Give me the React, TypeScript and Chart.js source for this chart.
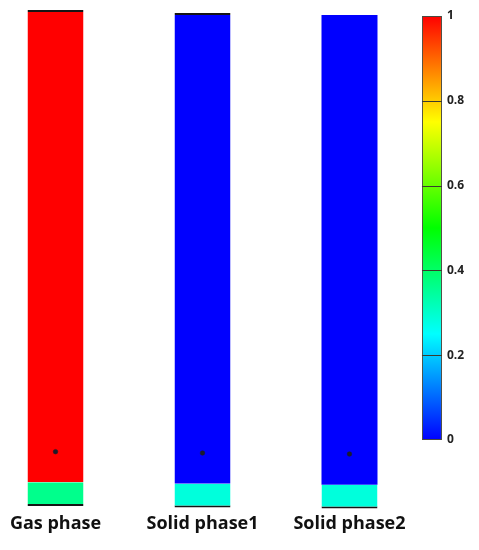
import React, { useEffect, useRef } from "react";
import { Chart, registerables } from "chart.js";

Chart.register(...registerables);

// ---- data ----
const phases = ["Gas phase", "Solid phase1", "Solid phase2"];
const phasePos = [0, 1, 2];
// normalised bed height ranges of the two zones in each column
const lowerZone: [number, number][] = [
  [0, 0.048],
  [-0.003, 0.045],
  [-0.005, 0.043],
];
const upperZone: [number, number][] = [
  [0.048, 1.0],
  [0.045, 0.994],
  [0.043, 0.99],
];
// volume fraction in each zone
const lowerFraction = [0.363, 0.284, 0.284];
const upperFraction = [1.0, 0.0, 0.0];
// monitoring point height
const probeHeight = [0.1095, 0.1069, 0.1048];
// colour bar
const colorbarTicks = [0, 0.2, 0.4, 0.6, 0.8, 1];
const colorbarRange: [number, number] = [0, 1];
const colorbarStops = [0, 0.25, 0.5, 0.75, 1];
const colorbarColors = ["#0000ff", "#00ffff", "#00ff00", "#ffff00", "#ff0000"];

// ---- styling ----
const columnTopEdge = [2, 2, 0];
const FONT = "'Open Sans', 'Liberation Sans', Arial, sans-serif";

function hexToRgb(h: string) {
  const n = parseInt(h.slice(1), 16);
  return [(n >> 16) & 255, (n >> 8) & 255, n & 255];
}

function colormap(v: number) {
  const t = Math.max(0, Math.min(1, v));
  for (let i = 0; i < colorbarStops.length - 1; i++) {
    const a = colorbarStops[i];
    const b = colorbarStops[i + 1];
    if (t <= b) {
      const f = (t - a) / (b - a);
      const c0 = hexToRgb(colorbarColors[i]);
      const c1 = hexToRgb(colorbarColors[i + 1]);
      const c = c0.map((x, k) => Math.round(x + (c1[k] - x) * f));
      return `rgb(${c[0]},${c[1]},${c[2]})`;
    }
  }
  return colorbarColors[colorbarColors.length - 1];
}

const colorbarLines = {
  id: "colorbarLines",
  afterDatasetsDraw(chart: any) {
    const meta = chart.getDatasetMeta(2);
    const bar = meta && meta.data && meta.data[0];
    const sc = chart.scales.yc;
    if (!bar || !sc) return;
    const ctx = chart.ctx;
    ctx.save();
    ctx.strokeStyle = "#3b3b2e";
    ctx.lineWidth = 1;
    colorbarTicks.forEach((t) => {
      if (t <= colorbarRange[0] || t >= colorbarRange[1]) return;
      const y = Math.round(sc.getPixelForValue(t)) + 0.5;
      ctx.beginPath();
      ctx.moveTo(bar.x - bar.width / 2, y);
      ctx.lineTo(bar.x + bar.width / 2, y);
      ctx.stroke();
    });
    ctx.restore();
  },
};

export default function App() {
  const ref = useRef<HTMLCanvasElement | null>(null);

  useEffect(() => {
    if (!ref.current) return;
    const chart = new Chart(ref.current, {
      type: "bar",
      data: {
        datasets: [
          {
            label: "lower",
            data: phasePos.map((x, i) => ({ x, y: lowerZone[i] })) as any,
            backgroundColor: (c: any) => colormap(lowerFraction[c.dataIndex]),
            borderColor: "#151515",
            borderWidth: { top: 0, left: 0, right: 0, bottom: 2 } as any,
            borderSkipped: false,
            barThickness: 56,
            grouped: false,
            inflateAmount: 0,
            xAxisID: "x",
            yAxisID: "y",
          } as any,
          {
            label: "upper",
            data: phasePos.map((x, i) => ({ x, y: upperZone[i] })) as any,
            backgroundColor: (c: any) => colormap(upperFraction[c.dataIndex]),
            borderColor: "#151515",
            borderWidth: (c: any) => ({ top: columnTopEdge[c.dataIndex] ?? 0, left: 0, right: 0, bottom: 0 }),
            borderSkipped: false,
            barThickness: 56,
            grouped: false,
            inflateAmount: 0,
            xAxisID: "x",
            yAxisID: "y",
          } as any,
          {
            label: "colorbar",
            data: [{ x: 2.561, y: colorbarRange }] as any,
            backgroundColor: (c: any) => {
              const ch = c.chart;
              const sc = ch.scales.yc;
              if (!sc) return colorbarColors[0];
              const y0 = sc.getPixelForValue(colorbarRange[0]);
              const y1 = sc.getPixelForValue(colorbarRange[1]);
              if (!isFinite(y0) || !isFinite(y1) || y0 === y1) return colorbarColors[0];
              const g = ch.ctx.createLinearGradient(0, y0, 0, y1);
              colorbarStops.forEach((s, i) => g.addColorStop(s, colorbarColors[i]));
              return g;
            },
            borderColor: "#4a4a40",
            borderWidth: 1,
            borderSkipped: false,
            barThickness: 20,
            grouped: false,
            inflateAmount: 0,
            xAxisID: "x",
            yAxisID: "yc",
          } as any,
          {
            type: "scatter",
            label: "probe",
            order: -1,
            data: phasePos.map((x, i) => ({ x, y: probeHeight[i] })),
            pointStyle: "circle",
            pointRadius: 2.3,
            backgroundColor: "#1c1c2a",
            borderColor: "#1c1c2a",
            borderWidth: 0.5,
            xAxisID: "x",
            yAxisID: "y",
          } as any,
        ],
      },
      options: {
        animation: false,
        responsive: false,
        devicePixelRatio: 1,
        layout: { padding: 0, autoPadding: false } as any,
        plugins: {
          legend: { display: false },
          tooltip: { enabled: false },
        },
        scales: {
          x: {
            type: "linear",
            offset: false,
            min: -0.3776,
            max: 2.6293,
            afterBuildTicks: (s: any) => {
              s.ticks = phasePos.map((v) => ({ value: v }));
            },
            afterFit: (s: any) => {
              s.height = 40;
              s.paddingLeft = 0;
              s.paddingRight = 0;
            },
            ticks: {
              callback: (_v: any, i: number) => phases[i],
              font: { family: FONT, size: 18, weight: "bold" },
              color: "#111",
              padding: 3,
              maxRotation: 0,
              autoSkip: false,
            },
            grid: { display: false, drawTicks: false, offset: false },
            border: { display: false },
          },
          y: {
            type: "linear",
            display: false,
            min: -0.00806,
            max: 1.0202,
          },
          yc: {
            type: "linear",
            position: "right",
            min: -0.1651,
            max: 1.0377,
            afterBuildTicks: (s: any) => {
              s.ticks = colorbarTicks.map((v) => ({ value: v }));
            },
            afterFit: (s: any) => {
              s.width = 37;
              s.paddingTop = 0;
              s.paddingBottom = 0;
            },
            ticks: {
              callback: (v: any) => String(v),
              font: { family: FONT, size: 12, weight: "bold" },
              color: "#222",
              padding: 5,
            },
            grid: { display: false, drawTicks: false },
            border: { display: false },
          },
        },
      } as any,
      plugins: [colorbarLines],
    });
    return () => chart.destroy();
  }, []);

  return (
    <div style={{ position: "absolute", left: 0, top: 0, width: 479, height: 550, background: "#fff" }}>
      <canvas ref={ref} width={479} height={550} style={{ display: "block" }} />
    </div>
  );
}
